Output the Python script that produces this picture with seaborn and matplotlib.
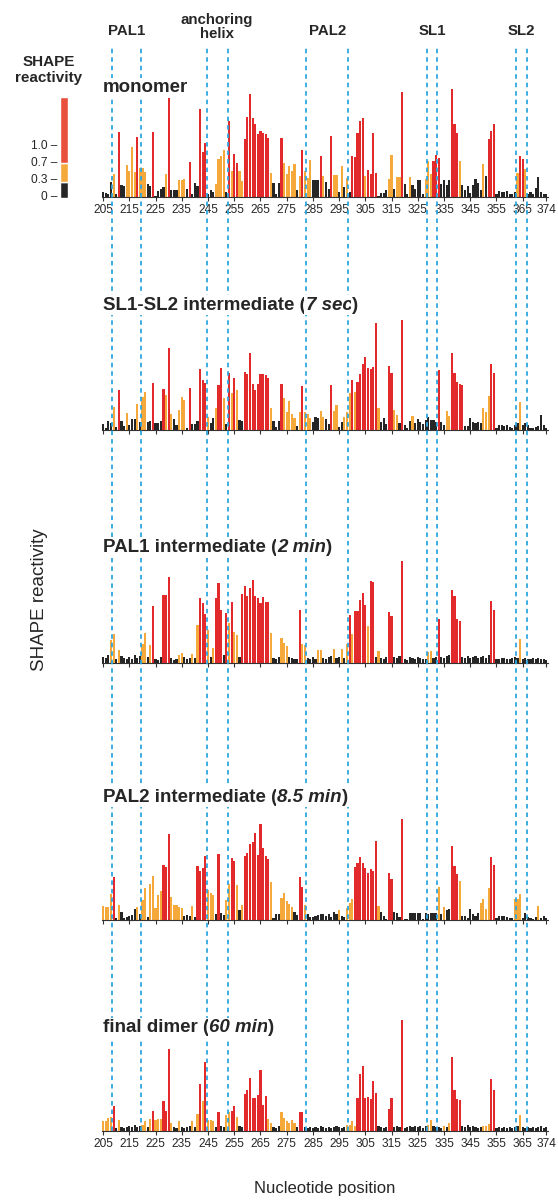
import numpy as np
import pandas as pd
import matplotlib.pyplot as plt
import seaborn as sns

sns.set_theme(style="white")
plt.rcParams['font.family'] = ['Liberation Sans', 'DejaVu Sans']

# =================================================================
# DATA - reactivity per nucleotide 205..374
# heights in arbitrary units, class: k < 0.3, o 0.3-0.7, r > 0.7
# =================================================================
positions = list(range(205, 375))
tick_positions = [205, 215, 225, 235, 245, 255, 265, 275, 285, 295,
                  305, 315, 325, 335, 345, 355, 365, 374]

region_names = ['PAL1', 'anchoring\nhelix', 'PAL2', 'SL1', 'SL2']
region_bounds = [(208.5, 219.5), (244.5, 252.5), (282.5, 298.5),
                 (328.5, 332.5), (362.5, 366.5)]

monomer = [
    5, 4, 3, 15, 23, 3, 65, 12, 11, 32,
    26, 50, 25, 60, 29, 29, 25, 13, 11, 65,
    1, 6, 8, 10, 23, 99, 7, 7, 7, 17,
    17, 18, 8, 35, 3, 14, 11, 88, 45, 54,
    3, 7, 5, 13, 38, 41, 47, 5, 76, 26,
    43, 34, 26, 16, 58, 80, 103, 79, 73, 63,
    66, 64, 63, 59, 24, 14, 3, 14, 59, 34,
    23, 31, 26, 33, 7, 21, 47, 26, 19, 37,
    17, 17, 17, 41, 21, 15, 8, 61, 22, 22,
    5, 31, 10, 19, 5, 41, 40, 64, 76, 79,
    21, 27, 23, 64, 24, 1, 4, 4, 7, 18,
    42, 8, 20, 20, 105, 13, 3, 20, 12, 8,
    17, 17, 3, 18, 36, 23, 36, 42, 39, 13,
    17, 12, 17, 108, 73, 64, 36, 12, 7, 11,
    4, 12, 18, 14, 7, 33, 21, 58, 66, 73,
    3, 6, 5, 5, 6, 3, 3, 5, 24, 41,
    38, 28, 3, 5, 3, 9, 20, 5, 3, 3,
]
monomer_cls = """
k k k k o k r k k o
o o o r o o o k k r
k k k k o r k k k o
o o k r k k k r r r
k k k o o o o k r o
r r o o r r r r r r
r r r r o k k k r o
o o o o k o r o o o
k k k r o k k r o o
k o k o k r r r r r
o r r r r k k k k o
o k o o r k k o k k
k k k o o o r r r k
k k k r r r o k k k
k k k k k o k r r r
k k k k k k k k o r
r o k k k k k k k k
"""

sl1sl2 = [
    6, 2, 9, 7, 23, 3, 40, 9, 4, 17,
    5, 11, 11, 26, 8, 33, 38, 8, 9, 47,
    7, 7, 9, 41, 35, 82, 16, 11, 5, 20,
    33, 30, 2, 42, 6, 6, 9, 61, 50, 47,
    13, 7, 12, 22, 45, 62, 32, 6, 57, 37,
    52, 40, 10, 9, 58, 56, 77, 46, 40, 46,
    56, 56, 55, 52, 22, 9, 3, 9, 46, 32,
    18, 29, 16, 12, 4, 18, 44, 18, 16, 12,
    8, 13, 12, 19, 13, 11, 6, 45, 19, 25,
    3, 8, 13, 18, 37, 50, 38, 48, 56, 66,
    73, 62, 61, 63, 107, 22, 8, 12, 6, 64,
    57, 20, 15, 7, 110, 5, 2, 9, 14, 7,
    11, 8, 6, 10, 13, 10, 10, 8, 60, 8,
    5, 19, 14, 77, 57, 48, 46, 45, 4, 4,
    12, 8, 7, 8, 7, 22, 18, 34, 66, 57,
    2, 5, 5, 4, 5, 3, 2, 5, 7, 28,
    5, 7, 5, 2, 2, 3, 4, 15, 5, 2,
]
sl1sl2_cls = """
k k k k o k r k k o
k k k o k o o k k r
k k k r o r o k k o
o o k r k k k r r r
o k k o r r o k r o
r o k k r r r r r r
r r r r o k k k r o
o o o o k o r o o o
k k k o o k k r o o
k k o o o r o r r r
r r r r r o k k k r
r o o k r k k k o k
k k k k k k k k r k
k o o r r r r r k k
k k k k k o o o r r
k k k k k k k k k o
k k k k k k k k k k
"""

pal1 = [
    6, 5, 8, 23, 29, 4, 13, 7, 5, 4,
    6, 4, 8, 5, 7, 19, 30, 6, 18, 57,
    4, 3, 6, 68, 68, 86, 5, 3, 4, 8,
    10, 6, 4, 5, 9, 5, 38, 65, 60, 49,
    33, 6, 15, 65, 80, 53, 8, 50, 40, 61,
    31, 28, 6, 69, 77, 67, 75, 83, 67, 65,
    60, 66, 61, 61, 30, 5, 4, 6, 25, 20,
    17, 6, 5, 4, 4, 53, 19, 18, 5, 4,
    6, 4, 13, 13, 5, 4, 6, 7, 14, 5,
    6, 14, 5, 19, 48, 29, 52, 52, 63, 70,
    58, 37, 82, 81, 6, 12, 5, 4, 6, 51,
    47, 6, 5, 7, 102, 4, 3, 6, 5, 4,
    6, 5, 4, 4, 11, 12, 5, 6, 44, 6,
    5, 7, 8, 73, 67, 44, 42, 6, 5, 7,
    5, 6, 7, 5, 6, 7, 5, 8, 62, 53,
    4, 4, 5, 5, 4, 4, 5, 6, 5, 24,
    4, 5, 4, 4, 5, 4, 5, 4, 4, 3,
]
pal1_cls = """
k k k o o k o k k k
k k k k k o o k o r
k k k r r r k k k o
o k k k o k o r r r
o k o r r r k r o r
o o k r r r r r r r
r r r r o k k k o o
o k k k k r o o k k
k k o o k k k k o k
k o k o r o r r r r
r o r r k o k k k r
r k k k r k k k k k
k k k k o o k k r k
k k k r r r r k k k
k k k k k k k k r r
k k k k k k k k k o
k k k k k k k k k k
"""

pal2 = [
    14, 13, 13, 26, 43, 2, 15, 8, 2, 3,
    4, 5, 11, 13, 6, 20, 32, 3, 36, 44,
    12, 25, 29, 55, 53, 86, 23, 15, 15, 13,
    12, 4, 5, 4, 14, 3, 54, 49, 52, 64,
    30, 27, 25, 6, 66, 7, 5, 20, 36, 62,
    59, 35, 10, 15, 64, 67, 76, 78, 87, 65,
    96, 72, 64, 61, 38, 2, 6, 6, 22, 27,
    19, 16, 13, 8, 5, 43, 33, 15, 6, 3,
    3, 4, 5, 6, 6, 4, 6, 3, 8, 6,
    10, 4, 3, 12, 17, 21, 53, 57, 63, 57,
    52, 47, 51, 49, 79, 14, 8, 4, 1, 47,
    41, 8, 7, 3, 101, 1, 1, 7, 7, 7,
    7, 7, 1, 7, 6, 7, 7, 7, 33, 6,
    13, 10, 11, 74, 54, 46, 39, 4, 4, 2,
    11, 6, 4, 7, 17, 21, 11, 32, 63, 55,
    2, 4, 4, 4, 3, 2, 2, 21, 21, 26,
    2, 7, 3, 2, 1, 3, 14, 2, 4, 2,
]
pal2_cls = """
o o o o r k o k k k
k k k o k o o k o o
o o o r r r o o o o
o k k k o k r r r r
o o o k r k k o o r
r o k o r r r r r r
r r r r o k k k o o
o o o k k r r o k k
k k k k k k k k k k
o k k o o o r r r r
r r r r r o k k k r
r k k k r k k k k k
k k k k k k k k o k
o k k r r r o k k k
k k k k o o o o r r
k k k k k k k o o o
k k k k k k o k k k
"""

dimer = [
    10, 10, 13, 14, 25, 3, 11, 4, 3, 4,
    5, 4, 6, 4, 5, 6, 10, 4, 12, 20,
    11, 12, 12, 30, 20, 82, 8, 4, 3, 10,
    4, 3, 4, 5, 10, 4, 17, 47, 30, 69,
    11, 11, 10, 4, 19, 5, 4, 16, 19, 20,
    25, 14, 5, 4, 37, 41, 53, 33, 33, 36,
    61, 26, 35, 12, 8, 4, 3, 5, 19, 13,
    10, 8, 11, 8, 4, 19, 19, 4, 3, 4,
    3, 4, 3, 5, 4, 3, 4, 3, 4, 5,
    4, 3, 4, 6, 6, 10, 5, 33, 57, 65,
    33, 34, 32, 50, 38, 5, 4, 3, 4, 22,
    33, 4, 5, 4, 111, 3, 4, 5, 4, 5,
    4, 5, 3, 5, 6, 11, 5, 4, 4, 3,
    5, 4, 8, 74, 41, 32, 31, 5, 4, 6,
    4, 5, 4, 3, 4, 5, 5, 7, 52, 41,
    3, 4, 3, 4, 3, 4, 3, 4, 5, 16,
    4, 3, 4, 3, 4, 3, 4, 5, 3, 4,
]
dimer_cls = """
o o o o r k o k k k
k k k k k o o k o r
o o o r r r o k k o
k k k k o k o r o r
o o o k r k k o o r
r o k k r r r r r r
r r r o o k k k o o
o o o o k r r k k k
k k k k k k k k k k
k k k o o o o r r r
r r r r r k k k k r
r k k k r k k k k k
k k k k o o k k k k
o k o r r r r k k k
k k k k k o o o r r
k k k k k k k k k o
k k k k k k k k k k
"""

panel_titles = [
    [("monomer", "normal")],
    [("SL1-SL2 intermediate (", "normal"), ("7 sec", "italic"), (")", "normal")],
    [("PAL1 intermediate (", "normal"), ("2 min", "italic"), (")", "normal")],
    [("PAL2 intermediate (", "normal"), ("8.5 min", "italic"), (")", "normal")],
    [("final dimer (", "normal"), ("60 min", "italic"), (")", "normal")],
]
panel_values = [monomer, sl1sl2, pal1, pal2, dimer]
panel_classes = [monomer_cls, sl1sl2_cls, pal1_cls, pal2_cls, dimer_cls]

legend_labels = ['0', '0.3', '0.7', '1.0']

# =================================================================
# LAYOUT (pixels of the 558 x 1203 figure)
# =================================================================
W, H = 558, 1203
X_LEFT, X_RIGHT = 101.8, 547.6
panel_px = [(197, 85, 88), (430, 315, 305), (663, 553, 548),
            (920, 812, 797), (1131, 1013, 1028)]   # baseline, top, title y

colors = {'k': '#262626', 'o': '#F6A93B', 'r': '#E22A2C'}
dash_color = '#2EA6DF'
first = positions[0]
XLIM = (-0.5, len(positions) - 0.5)     # categorical slots, one per nucleotide

fig = plt.figure(figsize=(W / 100, H / 100), dpi=100)
renderer = fig.canvas.get_renderer()


def fy(y):
    return 1 - y / H


def draw_title(x_px, y_px, parts):
    x = x_px
    for txt, style in parts:
        t = fig.text(x / W, fy(y_px), txt, fontsize=13.5, fontweight='bold',
                     fontstyle=style, ha='left', va='center', zorder=5,
                     bbox=dict(facecolor='white', edgecolor='none', pad=1))
        x += t.get_window_extent(renderer).width


for i, (vals, cls, title) in enumerate(zip(panel_values, panel_classes, panel_titles)):
    cls = cls.split()
    assert len(vals) == len(positions) == len(cls)
    base, top, ty = panel_px[i]
    ax = fig.add_axes([X_LEFT / W, fy(base), (X_RIGHT - X_LEFT) / W, (base - top) / H])
    df = pd.DataFrame({'pos': positions, 'val': vals, 'cls': cls})
    sns.barplot(data=df, x='pos', y='val', hue='cls', hue_order=['k', 'o', 'r'],
                palette=colors, dodge=False, width=0.82, linewidth=0,
                edgecolor='none', saturation=1, errorbar=None, legend=False, ax=ax)
    ax.set_xlim(*XLIM)
    ax.set_ylim(0, base - top)
    ax.set_facecolor('none')
    for s in ['top', 'right', 'left']:
        ax.spines[s].set_visible(False)
    ax.spines['bottom'].set_color('#333333')
    ax.spines['bottom'].set_linewidth(0.8)
    ax.set_yticks([])
    ax.set_xticks([p - first for p in tick_positions])
    ax.tick_params(axis='x', direction='out', length=3, width=0.8, color='#333333',
                   pad=2, labelsize=8.6, bottom=True)
    if i in (0, 4):
        ax.set_xticklabels([str(p) for p in tick_positions])
    else:
        ax.set_xticklabels([])
    ax.set_xlabel('')
    ax.set_ylabel('')
    draw_title(103, ty, title)

# dashed region boundaries across all panels
ov_top, ov_bot = 46, panel_px[-1][0]
ov = fig.add_axes([X_LEFT / W, fy(ov_bot), (X_RIGHT - X_LEFT) / W, (ov_bot - ov_top) / H],
                  zorder=1)
ov.set_xlim(*XLIM)
ov.set_ylim(0, 1)
ov.axis('off')
ov.patch.set_alpha(0)
for (a, b) in region_bounds:
    for xb in (a, b):
        ov.axvline(xb - first, color=dash_color, lw=1.3, linestyle=(0, (2.5, 2.2)))


def x_of(nt):
    return X_LEFT + (nt - first - XLIM[0]) / (XLIM[1] - XLIM[0]) * (X_RIGHT - X_LEFT)


# region labels on top
for name, (a, b) in zip(region_names, region_bounds):
    yy = 27 if '\n' in name else 31
    fig.text(x_of((a + b) / 2) / W, fy(yy), name, ha='center', va='center',
             fontsize=10.8, fontweight='bold', linespacing=0.95)

# colour key
fig.text(49 / W, fy(62), 'SHAPE', ha='center', va='center', fontsize=11, fontweight='bold')
fig.text(49 / W, fy(78), 'reactivity', ha='center', va='center', fontsize=11, fontweight='bold')
key = fig.add_axes([60 / W, fy(198), 8 / W, 101 / H])
key.bar([0], [16], bottom=0, width=1, color=colors['k'])
key.bar([0], [19], bottom=16, width=1, color=colors['o'])
key.bar([0], [66], bottom=35, width=1, color='#E8503D')
key.set_xlim(-0.5, 0.5)
key.set_ylim(0, 101)
key.axis('off')
for lab, yy in zip(legend_labels, [197, 180, 163, 146]):
    fig.text(57 / W, fy(yy), lab + ' \u2013', ha='right', va='center', fontsize=8.6)

# axis titles
fig.text(40 / W, fy(600), 'SHAPE reactivity', rotation=90, ha='center', va='center',
         fontsize=13.5)
fig.text(325 / W, fy(1188), 'Nucleotide position', ha='center', va='center', fontsize=12)

fig.savefig('out.png', dpi=100)
